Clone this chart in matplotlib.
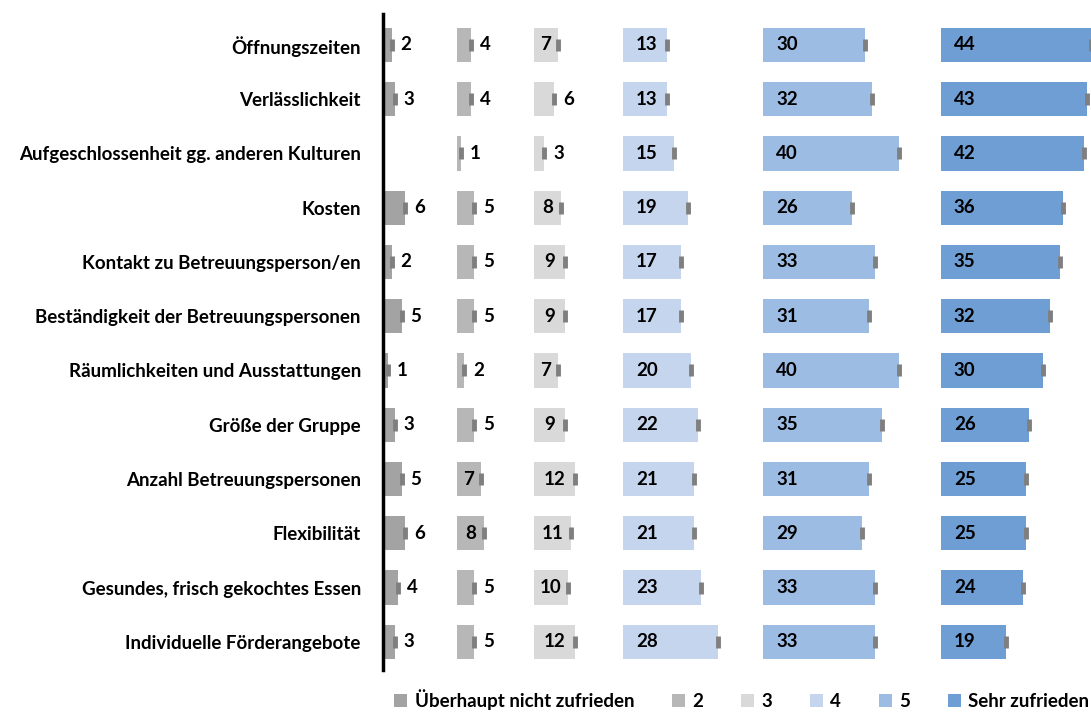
import matplotlib
matplotlib.use('Agg')
import numpy as np
import matplotlib.pyplot as plt
from matplotlib.patches import Patch

# ============================================
# DADOS
# ============================================
categorias = [
    'Öffnungszeiten',
    'Verlässlichkeit',
    'Aufgeschlossenheit gg. anderen Kulturen',
    'Kosten',
    'Kontakt zu Betreuungsperson/en',
    'Beständigkeit der Betreuungspersonen',
    'Räumlichkeiten und Ausstattungen',
    'Größe der Gruppe',
    'Anzahl Betreuungspersonen',
    'Flexibilität',
    'Gesundes, frisch gekochtes Essen',
    'Individuelle Förderangebote',
]

stufe_1 = [2, 3, 0, 6, 2, 5, 1, 3, 5, 6, 4, 3]
stufe_2 = [4, 4, 1, 5, 5, 5, 2, 5, 7, 8, 5, 5]
stufe_3 = [7, 6, 3, 8, 9, 9, 7, 9, 12, 11, 10, 12]
stufe_4 = [13, 13, 15, 19, 17, 17, 20, 22, 21, 21, 23, 28]
stufe_5 = [30, 32, 40, 26, 33, 31, 40, 35, 31, 29, 33, 33]
stufe_6 = [44, 43, 42, 36, 35, 32, 30, 26, 25, 25, 24, 19]

legende = ['Überhaupt nicht zufrieden', '2', '3', '4', '5', 'Sehr zufrieden']

# ============================================
# ESTILO
# ============================================
cores = ['#a3a3a3', '#b7b7b7', '#d9d9d9', '#c5d5ee', '#9cbce4', '#6e9ed4']
inicio = [0.5, 21.8, 44.4, 70.6, 111.8, 164.1]   # início de cada painel
fonte = 'Lato'
tam = 13.5

series = [stufe_1, stufe_2, stufe_3, stufe_4, stufe_5, stufe_6]
y = np.arange(len(categorias))

fig = plt.figure(figsize=(10.91, 7.22), dpi=100)
ax = fig.add_axes([383 / 1091, 1 - 670 / 722, 708 / 1091, 656 / 722])

for i, (vals, cor, x0) in enumerate(zip(series, cores, inicio)):
    vals = np.array(vals)
    ax.barh(y, vals, left=x0, height=0.63, color=cor, edgecolor='none', zorder=2)
    # marcador cinza no fim da barra (sem barra -> sem marcador)
    tem = vals > 0
    ax.plot(x0 + vals[tem], y[tem], linestyle='none', marker='|', markersize=9,
            markeredgewidth=3.5, color='#7f7f7f', zorder=3, clip_on=False)
    for yi, v in zip(y, vals):
        if v == 0:
            continue
        if i >= 3:
            ax.text(x0 + 3.8, yi, str(v), ha='left', va='center',
                    fontsize=tam, fontweight='bold', family=fonte)
        elif v >= 7:
            ax.text(x0 + v / 2, yi, str(v), ha='center', va='center',
                    fontsize=tam, fontweight='bold', family=fonte)
        else:
            ax.text(x0 + v + 2.6, yi, str(v), ha='left', va='center',
                    fontsize=tam, fontweight='bold', family=fonte)

ax.set_xlim(0, 708 / 3.4)
ax.set_ylim(11.52, -0.57)
ax.set_yticks(y)
ax.set_yticklabels(categorias, fontsize=tam, fontweight='bold', family=fonte)
ax.tick_params(axis='y', length=0, pad=16)
ax.set_xticks([])
for lado in ['top', 'right', 'bottom']:
    ax.spines[lado].set_visible(False)
ax.spines['left'].set_linewidth(2.5)
ax.spines['left'].set_color('black')

handles = [Patch(facecolor=c, edgecolor='none') for c in cores]
fig.legend(handles, legende, loc='center', bbox_to_anchor=(0.680, 0.031),
           ncol=6, frameon=False, handlelength=0.7, handleheight=0.7,
           handletextpad=0.4, columnspacing=2.0, borderpad=0.1,
           prop={'family': fonte, 'weight': 'bold', 'size': tam})

plt.savefig('out.png', dpi=100)
